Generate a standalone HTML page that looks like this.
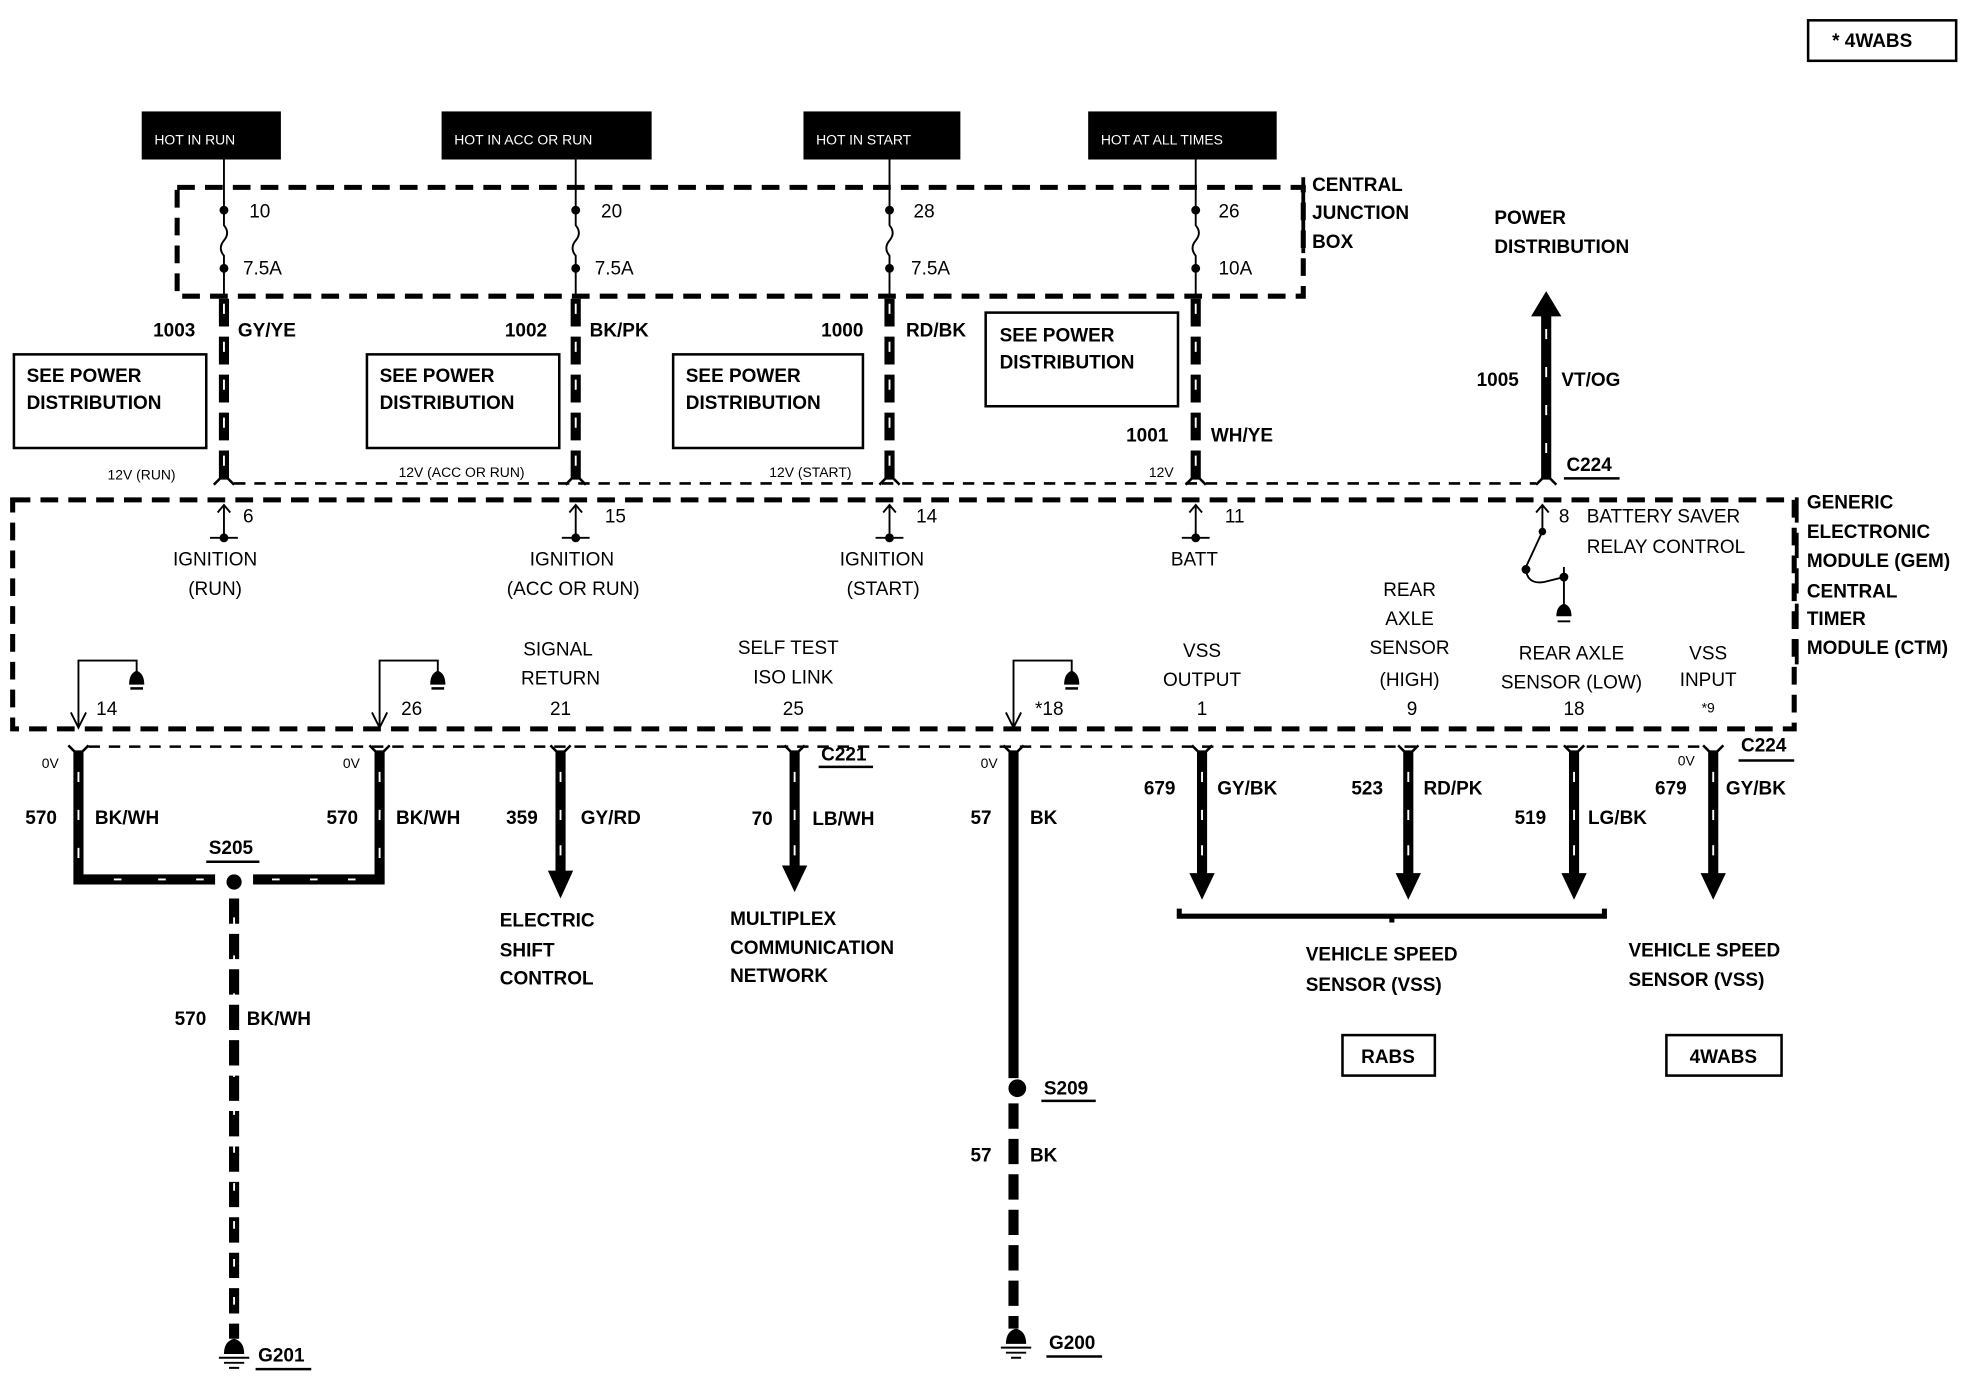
<!DOCTYPE html>
<html><head><meta charset="utf-8"><style>
html,body{margin:0;padding:0;background:#fff;}
svg{display:block;}
text{font-family:"Liberation Sans",sans-serif;fill:#000;}
.b{font-weight:bold;font-size:15px;}
.n{font-size:15px;}
.s{font-size:11px;}
.w{fill:#fff;font-size:11px;}
</style></head><body>
<svg width="1984" height="1392" viewBox="0 0 1568 1100" xmlns="http://www.w3.org/2000/svg">
<defs>
<g id="wd"><!-- placeholder --></g>
</defs>
<!-- top right box -->
<rect x="1429" y="16" width="117" height="32" fill="none" stroke="#000" stroke-width="2"/>
<text class="b" x="1448" y="37">* 4WABS</text>

<!-- hot labels -->
<rect x="112" y="88" width="110" height="38" fill="#000"/><text class="w" x="122" y="114">HOT IN RUN</text>
<rect x="349" y="88" width="166" height="38" fill="#000"/><text class="w" x="359" y="114">HOT IN ACC OR RUN</text>
<rect x="635" y="88" width="124" height="38" fill="#000"/><text class="w" x="645" y="114">HOT IN START</text>
<rect x="860" y="88" width="149" height="38" fill="#000"/><text class="w" x="870" y="114">HOT AT ALL TIMES</text>

<!-- central junction box -->
<path d="M140 148 H1030 V234 H140 Z" fill="none" stroke="#000" stroke-width="4" stroke-dasharray="14 8"/>
<line x1="1030" y1="140" x2="1030" y2="200" stroke="#000" stroke-width="3" stroke-dasharray="20 8"/>
<text class="b" x="1037" y="151">CENTRAL</text>
<text class="b" x="1037" y="173">JUNCTION</text>
<text class="b" x="1037" y="196">BOX</text>

<!-- fuses -->
<g stroke="#000" stroke-width="1.5" fill="none">
<path d="M177 126 V166 V178 q5 6 0 12 q-5 6 0 12 V234"/>
<path d="M455 126 V166 V178 q5 6 0 12 q-5 6 0 12 V234"/>
<path d="M703 126 V166 V178 q5 6 0 12 q-5 6 0 12 V234"/>
<path d="M945 126 V166 V178 q5 6 0 12 q-5 6 0 12 V234"/>
</g>
<g fill="#000">
<circle cx="177" cy="166" r="3.5"/><circle cx="177" cy="212" r="3.5"/>
<circle cx="455" cy="166" r="3.5"/><circle cx="455" cy="212" r="3.5"/>
<circle cx="703" cy="166" r="3.5"/><circle cx="703" cy="212" r="3.5"/>
<circle cx="945" cy="166" r="3.5"/><circle cx="945" cy="212" r="3.5"/>
</g>
<text class="n" x="197" y="172">10</text><text class="n" x="192" y="217">7.5A</text>
<text class="n" x="475" y="172">20</text><text class="n" x="470" y="217">7.5A</text>
<text class="n" x="722" y="172">28</text><text class="n" x="720" y="217">7.5A</text>
<text class="n" x="963" y="172">26</text><text class="n" x="963" y="217">10A</text>

<!-- upper wires (segmented thick) -->
<g stroke="#000" stroke-width="8" stroke-dasharray="22 8" fill="none">
<line x1="177" y1="236" x2="177" y2="378"/>
<line x1="455" y1="236" x2="455" y2="378"/>
<line x1="703" y1="236" x2="703" y2="378"/>
<line x1="945" y1="236" x2="945" y2="378"/>
</g>
<g stroke="#000" stroke-width="2" fill="none">
<path d="M169 383 l5 -5 h6 l5 5"/><path d="M447 383 l5 -5 h6 l5 5"/>
<path d="M695 383 l5 -5 h6 l5 5"/><path d="M937 383 l5 -5 h6 l5 5"/>
<path d="M1214 383 l5 -5 h6 l5 5"/>
</g>
<text class="b" x="121" y="266">1003</text><text class="b" x="188" y="266">GY/YE</text>
<text class="b" x="399" y="266">1002</text><text class="b" x="466" y="266">BK/PK</text>
<text class="b" x="649" y="266">1000</text><text class="b" x="716" y="266">RD/BK</text>
<text class="b" x="890" y="349">1001</text><text class="b" x="957" y="349">WH/YE</text>
<text class="s" x="85" y="379">12V (RUN)</text>
<text class="s" x="315" y="377">12V (ACC OR RUN)</text>
<text class="s" x="608" y="377">12V (START)</text>
<text class="s" x="908" y="377">12V</text>

<!-- see power boxes -->
<g fill="none" stroke="#000" stroke-width="2">
<rect x="11" y="280" width="152" height="74"/>
<rect x="290" y="280" width="152" height="74"/>
<rect x="532" y="280" width="150" height="74"/>
<rect x="779" y="247" width="152" height="74"/>
</g>
<text class="b" x="21" y="302">SEE POWER</text><text class="b" x="21" y="323">DISTRIBUTION</text>
<text class="b" x="300" y="302">SEE POWER</text><text class="b" x="300" y="323">DISTRIBUTION</text>
<text class="b" x="542" y="302">SEE POWER</text><text class="b" x="542" y="323">DISTRIBUTION</text>
<text class="b" x="790" y="270">SEE POWER</text><text class="b" x="790" y="291">DISTRIBUTION</text>

<!-- power distribution arrow -->
<text class="b" x="1181" y="177">POWER</text>
<text class="b" x="1181" y="200">DISTRIBUTION</text>
<line x1="1222" y1="248" x2="1222" y2="378" stroke="#000" stroke-width="8"/>
<polygon points="1210,250 1222,230 1234,250" fill="#000"/>
<text class="b" x="1167" y="305">1005</text><text class="b" x="1234" y="305">VT/OG</text>
<text class="b" x="1238" y="372">C224</text>
<line x1="1236" y1="378" x2="1280" y2="378" stroke="#000" stroke-width="2"/>

<!-- thin dashed connector line top -->
<line x1="185" y1="382" x2="1214" y2="382" stroke="#000" stroke-width="2" stroke-dasharray="9 7"/>

<!-- GEM box -->
<path d="M10 395 H1418 V576 H10 Z" fill="none" stroke="#000" stroke-width="4" stroke-dasharray="14 8"/>
<line x1="1420" y1="393" x2="1420" y2="530" stroke="#000" stroke-width="3" stroke-dasharray="20 8"/>
<text class="b" x="1428" y="402">GENERIC</text>
<text class="b" x="1428" y="425">ELECTRONIC</text>
<text class="b" x="1428" y="448">MODULE (GEM)</text>
<text class="b" x="1428" y="472">CENTRAL</text>
<text class="b" x="1428" y="494">TIMER</text>
<text class="b" x="1428" y="517">MODULE (CTM)</text>

<!-- input pins -->
<g stroke="#000" stroke-width="1.5" fill="none">
<path d="M177 425 V399 M172 405 l5 -6 l5 6 M166 425 h22"/>
<path d="M455 425 V399 M450 405 l5 -6 l5 6 M444 425 h22"/>
<path d="M703 425 V399 M698 405 l5 -6 l5 6 M692 425 h22"/>
<path d="M945 425 V399 M940 405 l5 -6 l5 6 M934 425 h22"/>
<path d="M1219 420 V399 M1214 405 l5 -6 l5 6"/>
<path d="M1219 420 L1206 448 q0 14 14 12 l16 -4 M1236 448 V478"/>
</g>
<g fill="#000">
<circle cx="177" cy="425" r="3.5"/><circle cx="455" cy="425" r="3.5"/>
<circle cx="703" cy="425" r="3.5"/><circle cx="945" cy="425" r="3.5"/>
<circle cx="1219" cy="420" r="3"/><circle cx="1206" cy="450" r="3.5"/><circle cx="1236" cy="456" r="3.5"/>
<path d="M1230 487 q0 -8 6 -10 q6 2 6 10 z"/>
</g>
<line x1="1231" y1="491" x2="1241" y2="491" stroke="#000" stroke-width="1.5"/>
<text class="n" x="192" y="413">6</text><text class="n" x="478" y="413">15</text>
<text class="n" x="724" y="413">14</text><text class="n" x="968" y="413">11</text>
<text class="n" x="1232" y="413">8</text>
<text class="n" x="1254" y="413">BATTERY SAVER</text>
<text class="n" x="1254" y="437">RELAY CONTROL</text>
<text class="n" x="170" y="447" text-anchor="middle">IGNITION</text>
<text class="n" x="170" y="470" text-anchor="middle">(RUN)</text>
<text class="n" x="452" y="447" text-anchor="middle">IGNITION</text>
<text class="n" x="453" y="470" text-anchor="middle">(ACC OR RUN)</text>
<text class="n" x="697" y="447" text-anchor="middle">IGNITION</text>
<text class="n" x="698" y="470" text-anchor="middle">(START)</text>
<text class="n" x="944" y="447" text-anchor="middle">BATT</text>

<!-- lower labels -->
<text class="n" x="441" y="518" text-anchor="middle">SIGNAL</text>
<text class="n" x="443" y="541" text-anchor="middle">RETURN</text>
<text class="n" x="443" y="565" text-anchor="middle">21</text>
<text class="n" x="623" y="517" text-anchor="middle">SELF TEST</text>
<text class="n" x="627" y="540" text-anchor="middle">ISO  LINK</text>
<text class="n" x="627" y="565" text-anchor="middle">25</text>
<text class="n" x="950" y="519" text-anchor="middle">VSS</text>
<text class="n" x="950" y="542" text-anchor="middle">OUTPUT</text>
<text class="n" x="950" y="565" text-anchor="middle">1</text>
<text class="n" x="1114" y="471" text-anchor="middle">REAR</text>
<text class="n" x="1114" y="494" text-anchor="middle">AXLE</text>
<text class="n" x="1114" y="517" text-anchor="middle">SENSOR</text>
<text class="n" x="1114" y="542" text-anchor="middle">(HIGH)</text>
<text class="n" x="1116" y="565" text-anchor="middle">9</text>
<text class="n" x="1242" y="521" text-anchor="middle">REAR AXLE</text>
<text class="n" x="1242" y="544" text-anchor="middle">SENSOR  (LOW)</text>
<text class="n" x="1244" y="565" text-anchor="middle">18</text>
<text class="n" x="1350" y="521" text-anchor="middle">VSS</text>
<text class="n" x="1350" y="542" text-anchor="middle">INPUT</text>
<text class="s" x="1350" y="563" text-anchor="middle">*9</text>

<!-- ground pins inside module -->
<g stroke="#000" stroke-width="1.5" fill="none">
<path d="M62 575 V522 H108 V532 M56 563 l6 12 l6 -12"/>
<path d="M300 575 V522 H346 V532 M294 563 l6 12 l6 -12"/>
<path d="M801 575 V522 H847 V532 M795 563 l6 12 l6 -12"/>
</g>
<g fill="#000">
<path d="M102 541 q0 -9 6 -11 q6 2 6 11 z"/><rect x="103" y="543" width="10" height="2"/>
<path d="M340 541 q0 -9 6 -11 q6 2 6 11 z"/><rect x="341" y="543" width="10" height="2"/>
<path d="M841 541 q0 -9 6 -11 q6 2 6 11 z"/><rect x="842" y="543" width="10" height="2"/>
</g>
<text class="n" x="76" y="565">14</text>
<text class="n" x="317" y="565">26</text>
<text class="n" x="818" y="565">*18</text>

<!-- lower thin dashed -->
<line x1="70" y1="590" x2="1350" y2="590" stroke="#000" stroke-width="2" stroke-dasharray="9 7"/>
<g stroke="#000" stroke-width="2" fill="none">
<path d="M54 589 l5 5 h6 l5 -5"/><path d="M292 589 l5 5 h6 l5 -5"/>
<path d="M435 589 l5 5 h6 l5 -5"/><path d="M620 589 l5 5 h6 l5 -5"/>
<path d="M793 589 l5 5 h6 l5 -5"/><path d="M942 589 l5 5 h6 l5 -5"/>
<path d="M1105 589 l5 5 h6 l5 -5"/><path d="M1236 589 l5 5 h6 l5 -5"/>
<path d="M1346 589 l5 5 h6 l5 -5"/>
</g>
<text class="b" x="649" y="601">C221</text>
<line x1="647" y1="606" x2="690" y2="606" stroke="#000" stroke-width="2"/>
<text class="b" x="1376" y="594">C224</text>
<line x1="1374" y1="601" x2="1418" y2="601" stroke="#000" stroke-width="2"/>

<!-- lower wires -->
<g stroke="#000" stroke-width="8" fill="none">
<path d="M62 594 V695 H300 V594"/>
<line x1="443" y1="594" x2="443" y2="690"/>
<line x1="628" y1="594" x2="628" y2="685"/>
<line x1="801" y1="594" x2="801" y2="852"/>
<line x1="950" y1="594" x2="950" y2="692"/>
<line x1="1113" y1="594" x2="1113" y2="692"/>
<line x1="1244" y1="594" x2="1244" y2="692"/>
<line x1="1354" y1="594" x2="1354" y2="692"/>
</g>
<line x1="185" y1="710" x2="185" y2="1058" stroke="#000" stroke-width="8" stroke-dasharray="20 8"/>
<line x1="801" y1="872" x2="801" y2="1050" stroke="#000" stroke-width="8" stroke-dasharray="20 8"/>
<rect x="170" y="690" width="30" height="12" fill="#fff"/>
<circle cx="185" cy="697" r="6" fill="#000"/>
<circle cx="804" cy="860" r="7" fill="#000"/>
<!-- white tick marks on wires -->
<g stroke="#fff" stroke-width="1.5">
<path d="M62 610 v8 M62 640 v8 M62 670 v8 M300 610 v8 M300 640 v8 M300 670 v8"/>
<path d="M90 695 h6 M125 695 h6 M155 695 h6 M215 695 h6 M245 695 h6 M275 695 h6"/>
<path d="M443 610 v8 M443 640 v8 M443 668 v8 M628 610 v8 M628 640 v8 M628 668 v8"/>
<path d="M950 610 v8 M950 640 v8 M950 668 v8 M1113 610 v8 M1113 640 v8 M1113 668 v8"/>
<path d="M1244 610 v8 M1244 640 v8 M1244 668 v8 M1354 610 v8 M1354 640 v8 M1354 668 v8"/>
<path d="M177 240 v8 M177 270 v8 M177 300 v8 M177 330 v8 M177 360 v8"/>
<path d="M455 240 v8 M455 270 v8 M455 300 v8 M455 330 v8 M455 360 v8"/>
<path d="M703 240 v8 M703 270 v8 M703 300 v8 M703 330 v8 M703 360 v8"/>
<path d="M945 240 v8 M945 270 v8 M945 300 v8 M945 330 v8 M945 360 v8"/>
<path d="M1222 260 v8 M1222 290 v8 M1222 320 v8 M1222 350 v8"/>
<path d="M185 725 v6 M185 755 v6 M185 785 v6 M185 815 v6 M185 845 v6 M185 875 v6 M185 905 v6 M185 935 v6 M185 965 v6 M185 995 v6 M185 1025 v6"/>
</g>
<!-- arrowheads -->
<g fill="#000">
<polygon points="433,688 453,688 443,710"/>
<polygon points="618,684 638,684 628,705"/>
<polygon points="940,690 960,690 950,711"/>
<polygon points="1103,690 1123,690 1113,711"/>
<polygon points="1234,690 1254,690 1244,711"/>
<polygon points="1344,690 1364,690 1354,711"/>
</g>
<!-- bracket -->
<path d="M932 718 v6 H1268 v-6 M1100 724 v5" stroke="#000" stroke-width="4" fill="none"/>

<!-- lower wire labels -->
<text class="s" x="33" y="607">0V</text>
<text class="s" x="271" y="607">0V</text>
<text class="s" x="775" y="607">0V</text>
<text class="s" x="1326" y="605">0V</text>
<text class="b" x="20" y="651">570</text><text class="b" x="75" y="651">BK/WH</text>
<text class="b" x="258" y="651">570</text><text class="b" x="313" y="651">BK/WH</text>
<text class="b" x="165" y="675">S205</text>
<line x1="163" y1="681" x2="205" y2="681" stroke="#000" stroke-width="2"/>
<text class="b" x="400" y="651">359</text><text class="b" x="459" y="651">GY/RD</text>
<text class="b" x="594" y="652">70</text><text class="b" x="642" y="652">LB/WH</text>
<text class="b" x="767" y="651">57</text><text class="b" x="814" y="651">BK</text>
<text class="b" x="904" y="628">679</text><text class="b" x="962" y="628">GY/BK</text>
<text class="b" x="1068" y="628">523</text><text class="b" x="1125" y="628">RD/PK</text>
<text class="b" x="1197" y="651">519</text><text class="b" x="1255" y="651">LG/BK</text>
<text class="b" x="1308" y="628">679</text><text class="b" x="1364" y="628">GY/BK</text>

<text class="b" x="395" y="732">ELECTRIC</text>
<text class="b" x="395" y="756">SHIFT</text>
<text class="b" x="395" y="778">CONTROL</text>
<text class="b" x="577" y="731">MULTIPLEX</text>
<text class="b" x="577" y="754">COMMUNICATION</text>
<text class="b" x="577" y="776">NETWORK</text>
<text class="b" x="1032" y="759">VEHICLE SPEED</text>
<text class="b" x="1032" y="783">SENSOR (VSS)</text>
<text class="b" x="1287" y="756">VEHICLE SPEED</text>
<text class="b" x="1287" y="779">SENSOR (VSS)</text>
<rect x="1061" y="818" width="73" height="32" fill="none" stroke="#000" stroke-width="2"/>
<text class="b" x="1097" y="840" text-anchor="middle">RABS</text>
<rect x="1317" y="818" width="91" height="32" fill="none" stroke="#000" stroke-width="2"/>
<text class="b" x="1362" y="840" text-anchor="middle">4WABS</text>

<text class="b" x="138" y="810">570</text><text class="b" x="195" y="810">BK/WH</text>
<text class="b" x="825" y="865">S209</text>
<line x1="823" y1="870" x2="866" y2="870" stroke="#000" stroke-width="2"/>
<text class="b" x="767" y="918">57</text><text class="b" x="814" y="918">BK</text>

<!-- grounds -->
<g fill="#000">
<path d="M177 1070 q0 -10 8 -12 q8 2 8 12 z"/>
<path d="M795 1062 q0 -10 8 -12 q8 2 8 12 z"/>
</g>
<g stroke="#000" stroke-width="1.5">
<path d="M173 1073 h24 M177 1077 h16 M181 1081 h8"/>
<path d="M791 1065 h24 M795 1069 h16 M799 1073 h8"/>
</g>
<text class="b" x="204" y="1076">G201</text>
<line x1="202" y1="1082" x2="246" y2="1082" stroke="#000" stroke-width="2"/>
<text class="b" x="829" y="1066">G200</text>
<line x1="827" y1="1072" x2="871" y2="1072" stroke="#000" stroke-width="2"/>
</svg>
</body></html>
